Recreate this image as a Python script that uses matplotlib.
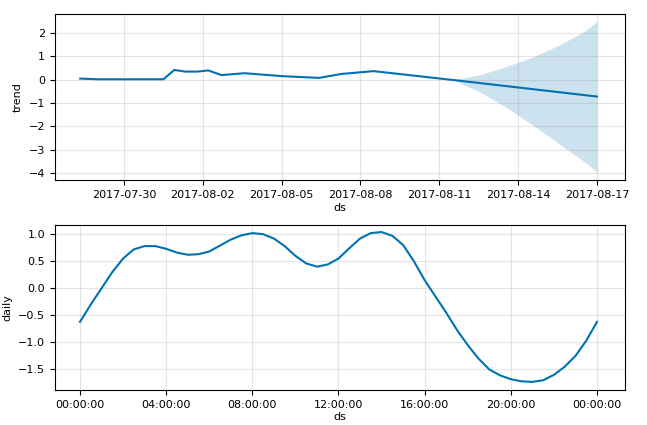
import matplotlib
matplotlib.use("Agg")
import matplotlib.pyplot as plt
import matplotlib.dates as mdates
import pandas as pd
import numpy as np

trend_ds = ["2017-07-28 08:00","2017-07-29 00:00","2017-07-31 12:00","2017-07-31 22:00",
            "2017-08-01 08:00","2017-08-01 19:00","2017-08-02 05:00","2017-08-02 17:00",
            "2017-08-03 14:00","2017-08-05 02:00","2017-08-06 10:00","2017-08-07 07:00",
            "2017-08-08 12:00","2017-08-11 20:00","2017-08-17 00:00"]
trend_y = [0.05,0.02,0.02,0.42,0.35,0.35,0.40,0.20,0.28,0.15,0.08,0.25,0.37,-0.05,-0.72]
unc_ds = ["2017-08-11 12:00","2017-08-12 12:00","2017-08-13 12:00","2017-08-14 12:00",
          "2017-08-15 12:00","2017-08-16 12:00","2017-08-17 00:00"]
unc_hi = [0.0,0.2,0.55,0.95,1.45,2.05,2.5]
unc_lo = [0.0,-0.5,-1.15,-1.9,-2.7,-3.5,-3.95]

daily_hours = [i * 0.5 for i in range(49)]
daily_y = [-0.62,-0.3,0.0,0.3,0.55,0.72,0.78,0.78,0.73,0.66,0.62,0.63,0.68,0.79,0.9,0.98,
           1.02,1.0,0.92,0.78,0.6,0.46,0.40,0.44,0.55,0.74,0.92,1.02,1.04,0.97,0.8,0.5,
           0.15,-0.15,-0.45,-0.77,-1.05,-1.3,-1.5,-1.61,-1.68,-1.72,-1.73,-1.7,-1.6,-1.45,
           -1.25,-0.97,-0.62]

c = "#0072B2"
fig = plt.figure(figsize=(6.47,4.25), dpi=100)
ax1 = fig.add_axes([55/647, 1-180/425, 570/647, 166/425])
ax2 = fig.add_axes([55/647, 1-390/425, 570/647, 165/425])

td = pd.to_datetime(trend_ds)
ud = pd.to_datetime(unc_ds)
ax1.plot(td, trend_y, color=c, lw=1.5)
ax1.fill_between(ud, unc_lo, unc_hi, color=c, alpha=0.2, lw=0)
ax1.set_xlim(pd.Timestamp("2017-07-27 09:00"), pd.Timestamp("2017-08-18 01:40"))
ax1.set_ylim(-4.3, 2.82)
ax1.set_yticks([-4,-3,-2,-1,0,1,2])
ax1.xaxis.set_major_locator(mdates.DayLocator(bymonthday=[2,5,8,11,14,17,30]))
ax1.xaxis.set_major_formatter(mdates.DateFormatter("%Y-%m-%d"))
ax1.set_xlabel("ds", fontsize=8, labelpad=2); ax1.set_ylabel("trend", fontsize=8)

base = pd.Timestamp("2017-01-01")
dd = [base + pd.Timedelta(hours=h) for h in daily_hours]
ax2.plot(dd, daily_y, color=c, lw=1.5)
ax2.set_xlim(base - pd.Timedelta(hours=1.16), base + pd.Timedelta(hours=25.3))
ax2.set_ylim(-1.88, 1.17)
ax2.set_yticks([-1.5,-1.0,-0.5,0.0,0.5,1.0])
ax2.xaxis.set_major_locator(mdates.HourLocator(byhour=[0,4,8,12,16,20]))
ax2.xaxis.set_major_formatter(mdates.DateFormatter("%H:%M:%S"))
ax2.set_xlabel("ds", fontsize=8, labelpad=2); ax2.set_ylabel("daily", fontsize=8)

for ax in (ax1, ax2):
    ax.grid(True, color="gray", alpha=0.2, lw=0.8)
    ax.tick_params(labelsize=8)
fig.savefig("out.png", dpi=100)
